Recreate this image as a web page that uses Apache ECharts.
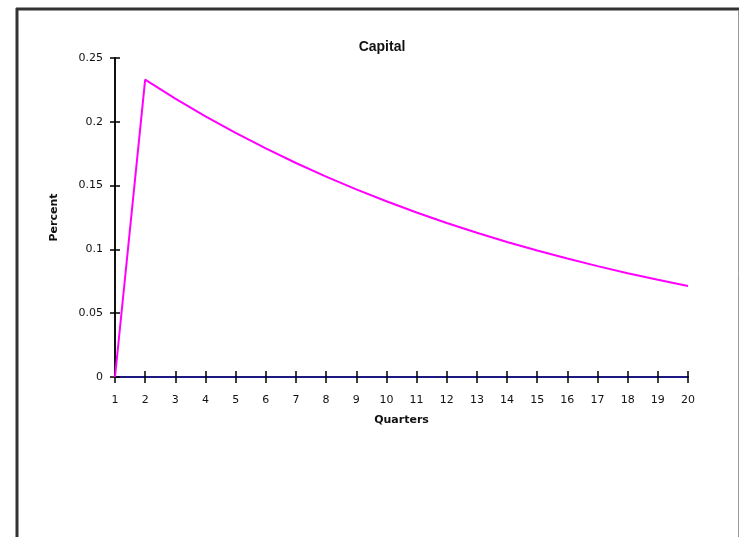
<!DOCTYPE html>
<html>
<head>
<meta charset="utf-8">
<script src="https://cdn.jsdelivr.net/npm/echarts@6/dist/echarts.min.js"></script>
<style>
html,body{margin:0;padding:0;background:#fff;}
#chart{width:739px;height:537px;}
</style>
</head>
<body>
<div id="chart"></div>
<script>
var quarters = ['1','2','3','4','5','6','7','8','9','10','11','12','13','14','15','16','17','18','19','20'];
var capital = [0, 0.2330, 0.2182, 0.2043, 0.1913, 0.1791, 0.1677, 0.1570, 0.1470, 0.1377, 0.1289, 0.1207, 0.1130, 0.1058, 0.0991, 0.0928, 0.0869, 0.0813, 0.0762, 0.0713];
var yTicks = [0, 0.05, 0.1, 0.15, 0.2, 0.25];

var chart = echarts.init(document.getElementById('chart'));
var font = 'Liberation Sans, Arial, sans-serif';
var lblFont = 'DejaVu Sans, Verdana, sans-serif';
chart.setOption({
  animation: false,
  backgroundColor: '#fff',
  title: {
    text: 'Capital', left: 377, top: 35, textAlign: 'center',
    textStyle: {fontFamily: font, fontSize: 14, fontWeight: 'bold', color: '#111'}
  },
  graphic: [
    {type: 'line', shape: {x1: 16, y1: 9, x2: 739, y2: 9}, style: {stroke: '#333', lineWidth: 3}},
    {type: 'line', shape: {x1: 17, y1: 8, x2: 17, y2: 537}, style: {stroke: '#333', lineWidth: 3}},
    {type: 'line', shape: {x1: 738.5, y1: 10, x2: 738.5, y2: 537}, style: {stroke: '#999', lineWidth: 1}}
  ],
  grid: {left: 115, right: 51, top: 58, bottom: 160},
  xAxis: [{
    type: 'category', data: quarters, boundaryGap: false,
    name: 'Quarters', nameLocation: 'middle', nameGap: 38,
    nameTextStyle: {fontFamily: lblFont, fontSize: 11, fontWeight: 'bold', color: '#111'},
    axisLine: {lineStyle: {color: '#1a1a80', width: 2}},
    axisTick: {show: true, inside: false, length: 6, alignWithLabel: true, lineStyle: {color: '#000', width: 1.5}, interval: 0},
    axisLabel: {fontFamily: lblFont, fontSize: 11, color: '#111', margin: 18, interval: 0},
    splitLine: {show: false}
  }, {
    type: 'category', data: quarters, boundaryGap: false, position: 'bottom',
    axisLine: {show: false},
    axisTick: {show: true, inside: true, length: 6, lineStyle: {color: '#000', width: 1.5}, interval: 0},
    axisLabel: {show: false}, splitLine: {show: false}
  }],
  yAxis: [{
    type: 'value', min: 0, max: 0.25, interval: 0.05,
    name: 'Percent', nameLocation: 'middle', nameGap: 55,
    nameTextStyle: {fontFamily: lblFont, fontSize: 11, fontWeight: 'bold', color: '#111'},
    axisLine: {show: true, lineStyle: {color: '#111', width: 2}},
    axisTick: {show: true, inside: false, length: 5, lineStyle: {color: '#000', width: 1.5}},
    axisLabel: {fontFamily: lblFont, fontSize: 11, color: '#111', margin: 12,
      formatter: function (v) { return yTicks.indexOf(+v.toFixed(2)) >= 0 ? String(+v.toFixed(2)) : ''; }},
    splitLine: {show: false}
  }, {
    type: 'value', min: 0, max: 0.25, interval: 0.05, position: 'left',
    axisLine: {show: false},
    axisTick: {show: true, inside: true, length: 5, lineStyle: {color: '#000', width: 1.5}},
    axisLabel: {show: false}, splitLine: {show: false}
  }],
  series: [{
    type: 'line', data: capital, xAxisIndex: 0, yAxisIndex: 0,
    showSymbol: false, smooth: false, z: 1,
    lineStyle: {color: '#ff00ff', width: 2}
  }]
});
</script>
</body>
</html>
